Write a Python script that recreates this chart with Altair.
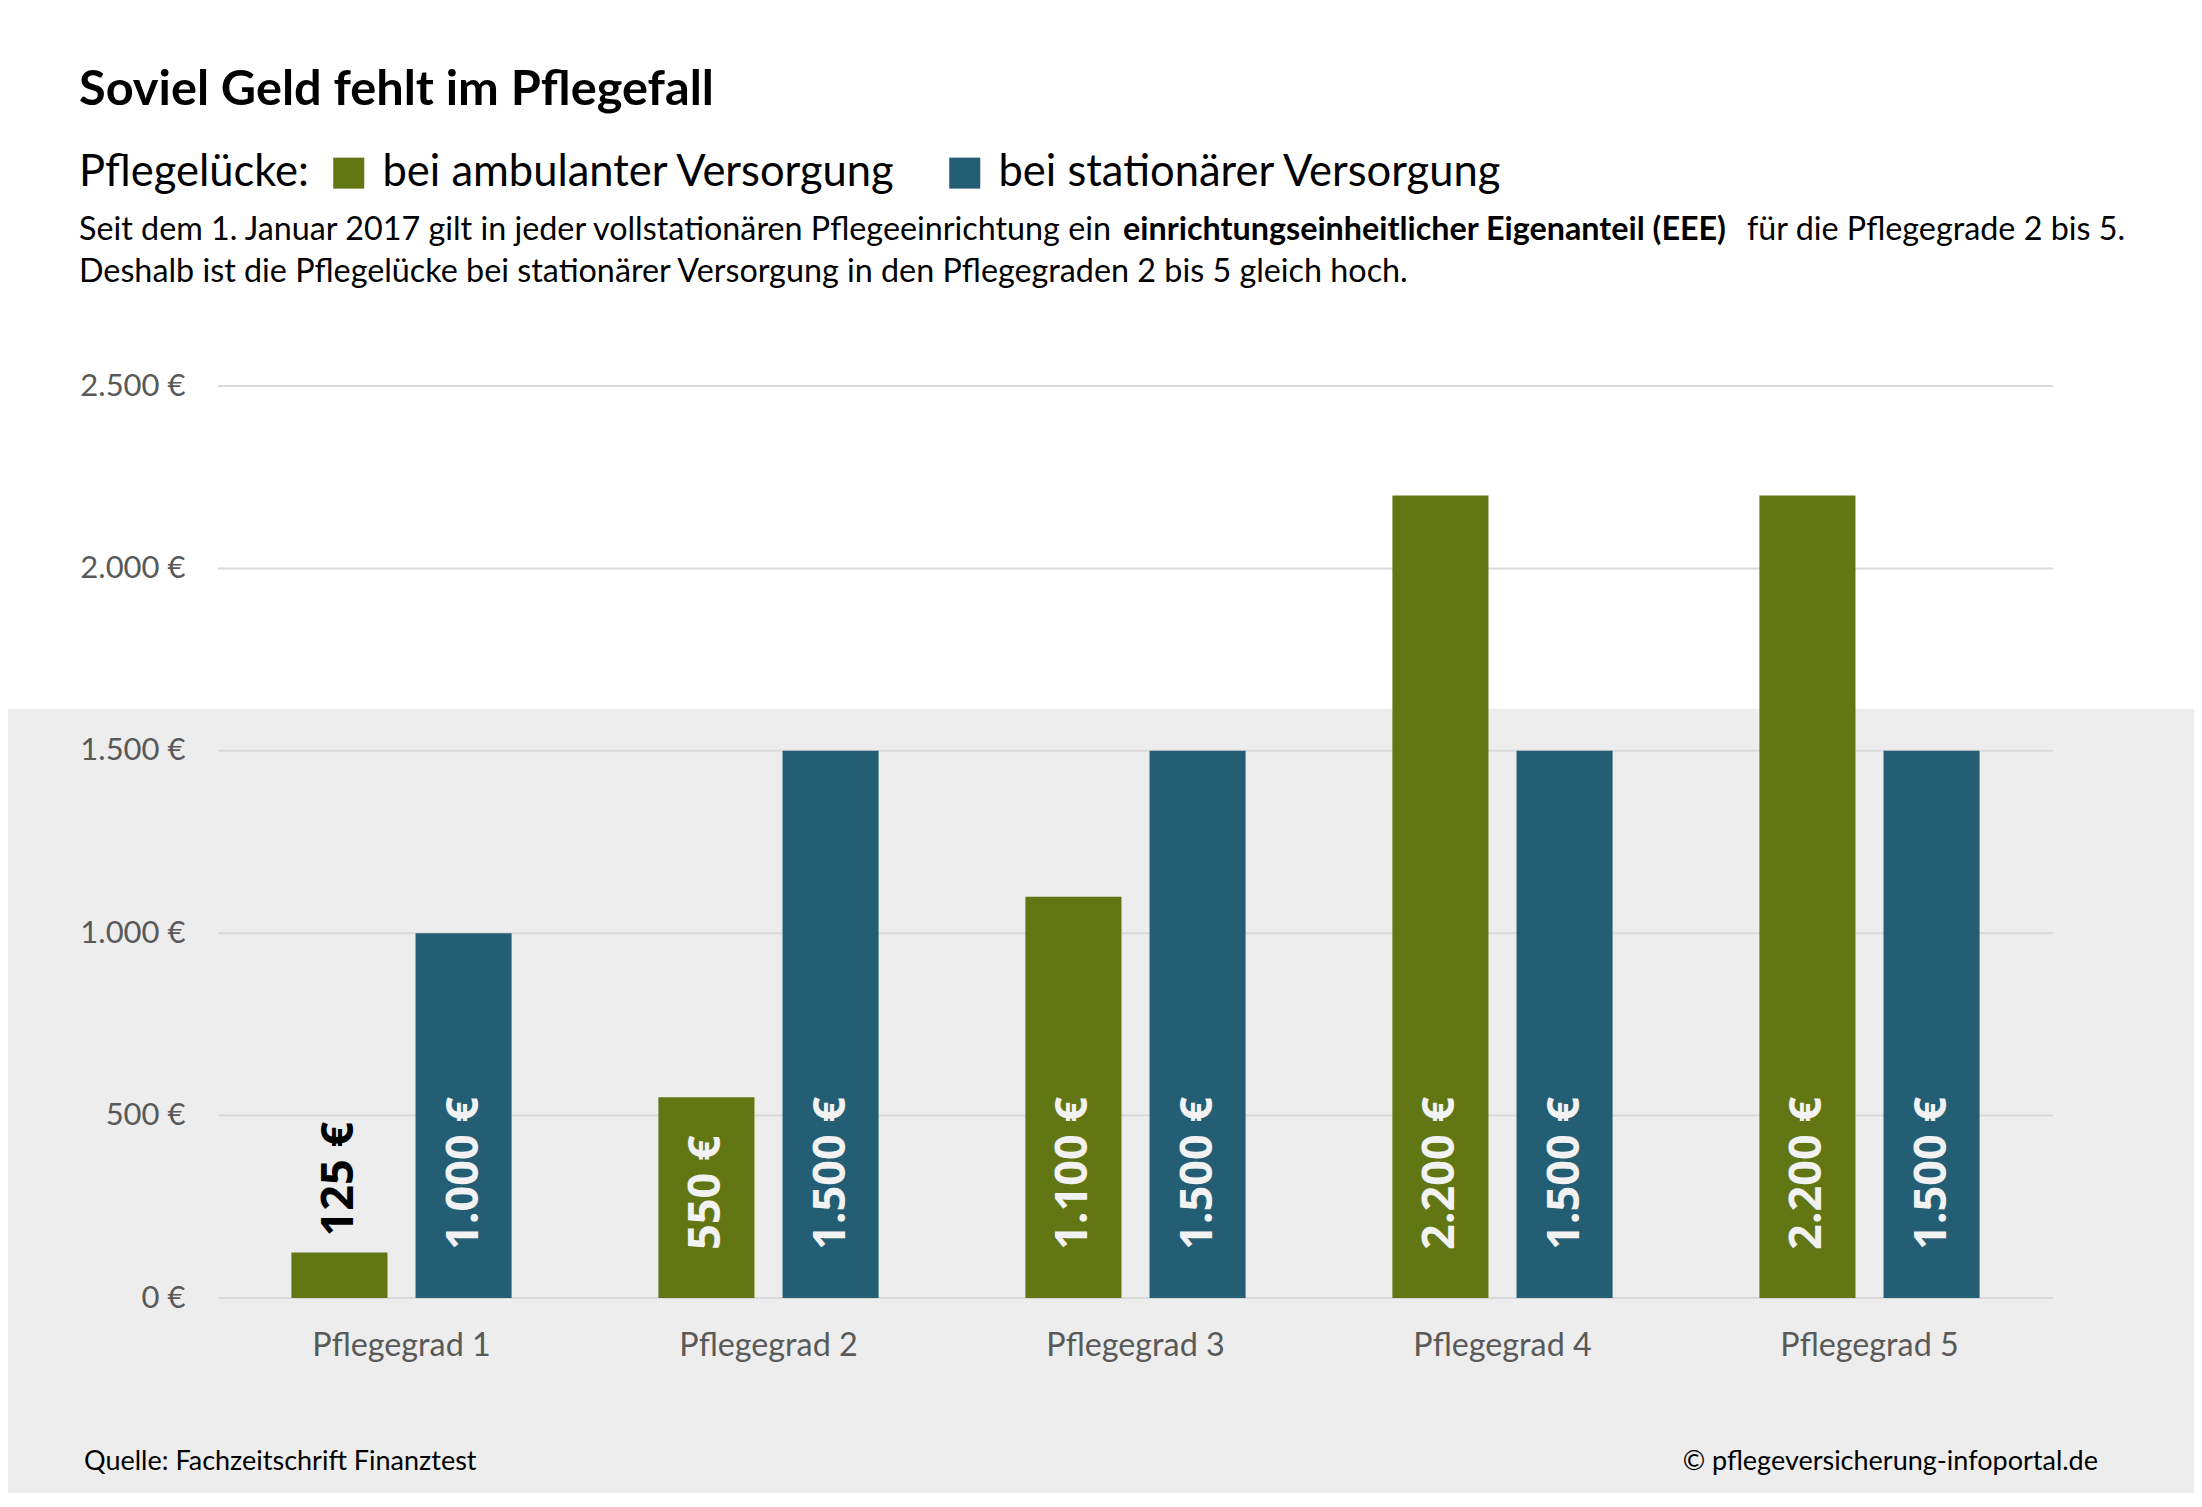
import altair as alt
import pandas as pd

# ---------------- data ----------------
categories = ["Pflegegrad 1", "Pflegegrad 2", "Pflegegrad 3", "Pflegegrad 4", "Pflegegrad 5"]
series = ["bei ambulanter Versorgung", "bei stationärer Versorgung"]
ambulant = [125, 550, 1100, 2200, 2200]
stationaer = [1000, 1500, 1500, 1500, 1500]
colors = ["#637614", "#245e75"]
y_ticks = [0, 500, 1000, 1500, 2000, 2500]

title_text = "Soviel Geld fehlt im Pflegefall"
legend_title = "Pflegelücke:"
desc1_a = "Seit dem 1. Januar 2017 gilt in jeder vollstationären Pflegeeinrichtung ein"
desc1_b = "einrichtungseinheitlicher Eigenanteil (EEE)"
desc1_c = "für die Pflegegrade 2 bis 5."
desc2 = "Deshalb ist die Pflegelücke bei stationärer Versorgung in den Pflegegraden 2 bis 5 gleich hoch."
source_text = "Quelle: Fachzeitschrift Finanztest"
copy_text = "© pflegeversicherung-infoportal.de"

rows = []
for i, c in enumerate(categories):
    rows.append({"grad": c, "serie": series[0], "wert": ambulant[i]})
    rows.append({"grad": c, "serie": series[1], "wert": stationaer[i]})
df = pd.DataFrame(rows)
ticks_df = pd.DataFrame({"tick": y_ticks})
one = pd.DataFrame({"k": [0]})

W, H = 1835, 912
euro = "replace(format({v}, ',d'), ',', '.') + ' €'"

x_sort = categories
x_scale = alt.Scale(paddingInner=0.4, paddingOuter=0.2)
off_scale = alt.Scale(paddingInner=0.226, paddingOuter=0)
y_scale = alt.Scale(domain=[0, 2500], nice=False)

x_axis = alt.Axis(title=None, labelFont="Lato", labelFontSize=32.3, labelColor="#595959",
                  labelPadding=31, ticks=False, domain=False, grid=False, labelAngle=0, zindex=1)
y_axis = alt.Axis(title=None, values=y_ticks, labelExpr=euro.format(v="datum.value"),
                  labelFont="Lato", labelFontSize=31, labelColor="#595959",
                  labelPadding=33, ticks=False, domain=False, grid=False, zindex=1)

# gray background of lower half
bg = alt.Chart(one).mark_rect(color="#ededed").encode(
    x=alt.value(-300), x2=alt.value(W + 300),
    y=alt.value(323), y2=alt.value(H + 400),
)

grid = alt.Chart(ticks_df).mark_rule(color="#d9d9d9", strokeWidth=2).encode(
    y=alt.Y("tick:Q", scale=y_scale, axis=y_axis),
    x=alt.value(0), x2=alt.value(W),
)

bars = alt.Chart(df).mark_bar().encode(
    x=alt.X("grad:N", sort=x_sort, scale=x_scale, axis=x_axis),
    xOffset=alt.XOffset("serie:N", sort=series, scale=off_scale),
    y=alt.Y("wert:Q", scale=y_scale, axis=y_axis),
    color=alt.Color("serie:N", scale=alt.Scale(domain=series, range=colors),
                    legend=alt.Legend(orient="none", legendX=-139, legendY=-235, direction="horizontal",
                                      title=legend_title, titleOrient="left", titleFont="Lato",
                                      titleFontSize=43.5, titleFontWeight="normal", titleColor="#000000",
                                      titlePadding=18, titleLimit=0, titleBaseline="middle",
                                      labelFont="Lato", labelFontSize=43.5, labelColor="#000000",
                                      labelLimit=0, labelOffset=12, symbolType="square",
                                      symbolSize=961, symbolStrokeWidth=0, columnPadding=46)),
)

lab_in = alt.Chart(df).transform_filter("datum.wert >= 300").transform_calculate(
    lbl=euro.format(v="datum.wert"), base="0"
).mark_text(angle=270, align="left", baseline="middle", dx=48, font="Open Sans",
            fontSize=45, fontWeight="bold", color="#f2f2f2").encode(
    x=alt.X("grad:N", sort=x_sort, scale=x_scale, axis=x_axis),
    xOffset=alt.XOffset("serie:N", sort=series, scale=off_scale),
    y=alt.Y("base:Q", scale=y_scale, axis=y_axis),
    text="lbl:N",
)

lab_out = alt.Chart(df).transform_filter("datum.wert < 300").transform_calculate(
    lbl=euro.format(v="datum.wert")
).mark_text(angle=270, align="left", baseline="middle", dx=16, font="Open Sans",
            fontSize=45, fontWeight="bold", color="#000000").encode(
    x=alt.X("grad:N", sort=x_sort, scale=x_scale, axis=x_axis),
    xOffset=alt.XOffset("serie:N", sort=series, scale=off_scale),
    y=alt.Y("wert:Q", scale=y_scale, axis=y_axis),
    text="lbl:N",
)


def txt(s, x, y, size, weight="normal", align="left", color="#000000"):
    return alt.Chart(one).mark_text(text=s, align=align, baseline="alphabetic", font="Lato",
                                    fontSize=size, fontWeight=weight, color=color).encode(
        x=alt.value(x), y=alt.value(y))


texts = [
    txt(title_text, -139, -281, 48.7, "bold"),
    txt(desc1_a, -139, -146, 32.3),
    txt(desc1_b, 905, -146, 32.3, "bold"),
    txt(desc1_c, 1529, -146, 32.3),
    txt(desc2, -139, -104, 32.3),
    txt(source_text, -134, 1084, 27),
    txt(copy_text, 1880, 1084, 27, align="right"),
]

chart = alt.layer(bg, grid, bars, lab_in, lab_out, *texts).properties(
    width=W, height=H,
    autosize=alt.AutoSizeParams(type="none"),
    padding={"left": 210, "top": 378, "right": 141, "bottom": 195},
    background="#ffffff",
).configure_view(stroke=None)

chart.save("out.html", embed_options={"renderer": "svg", "actions": False})
